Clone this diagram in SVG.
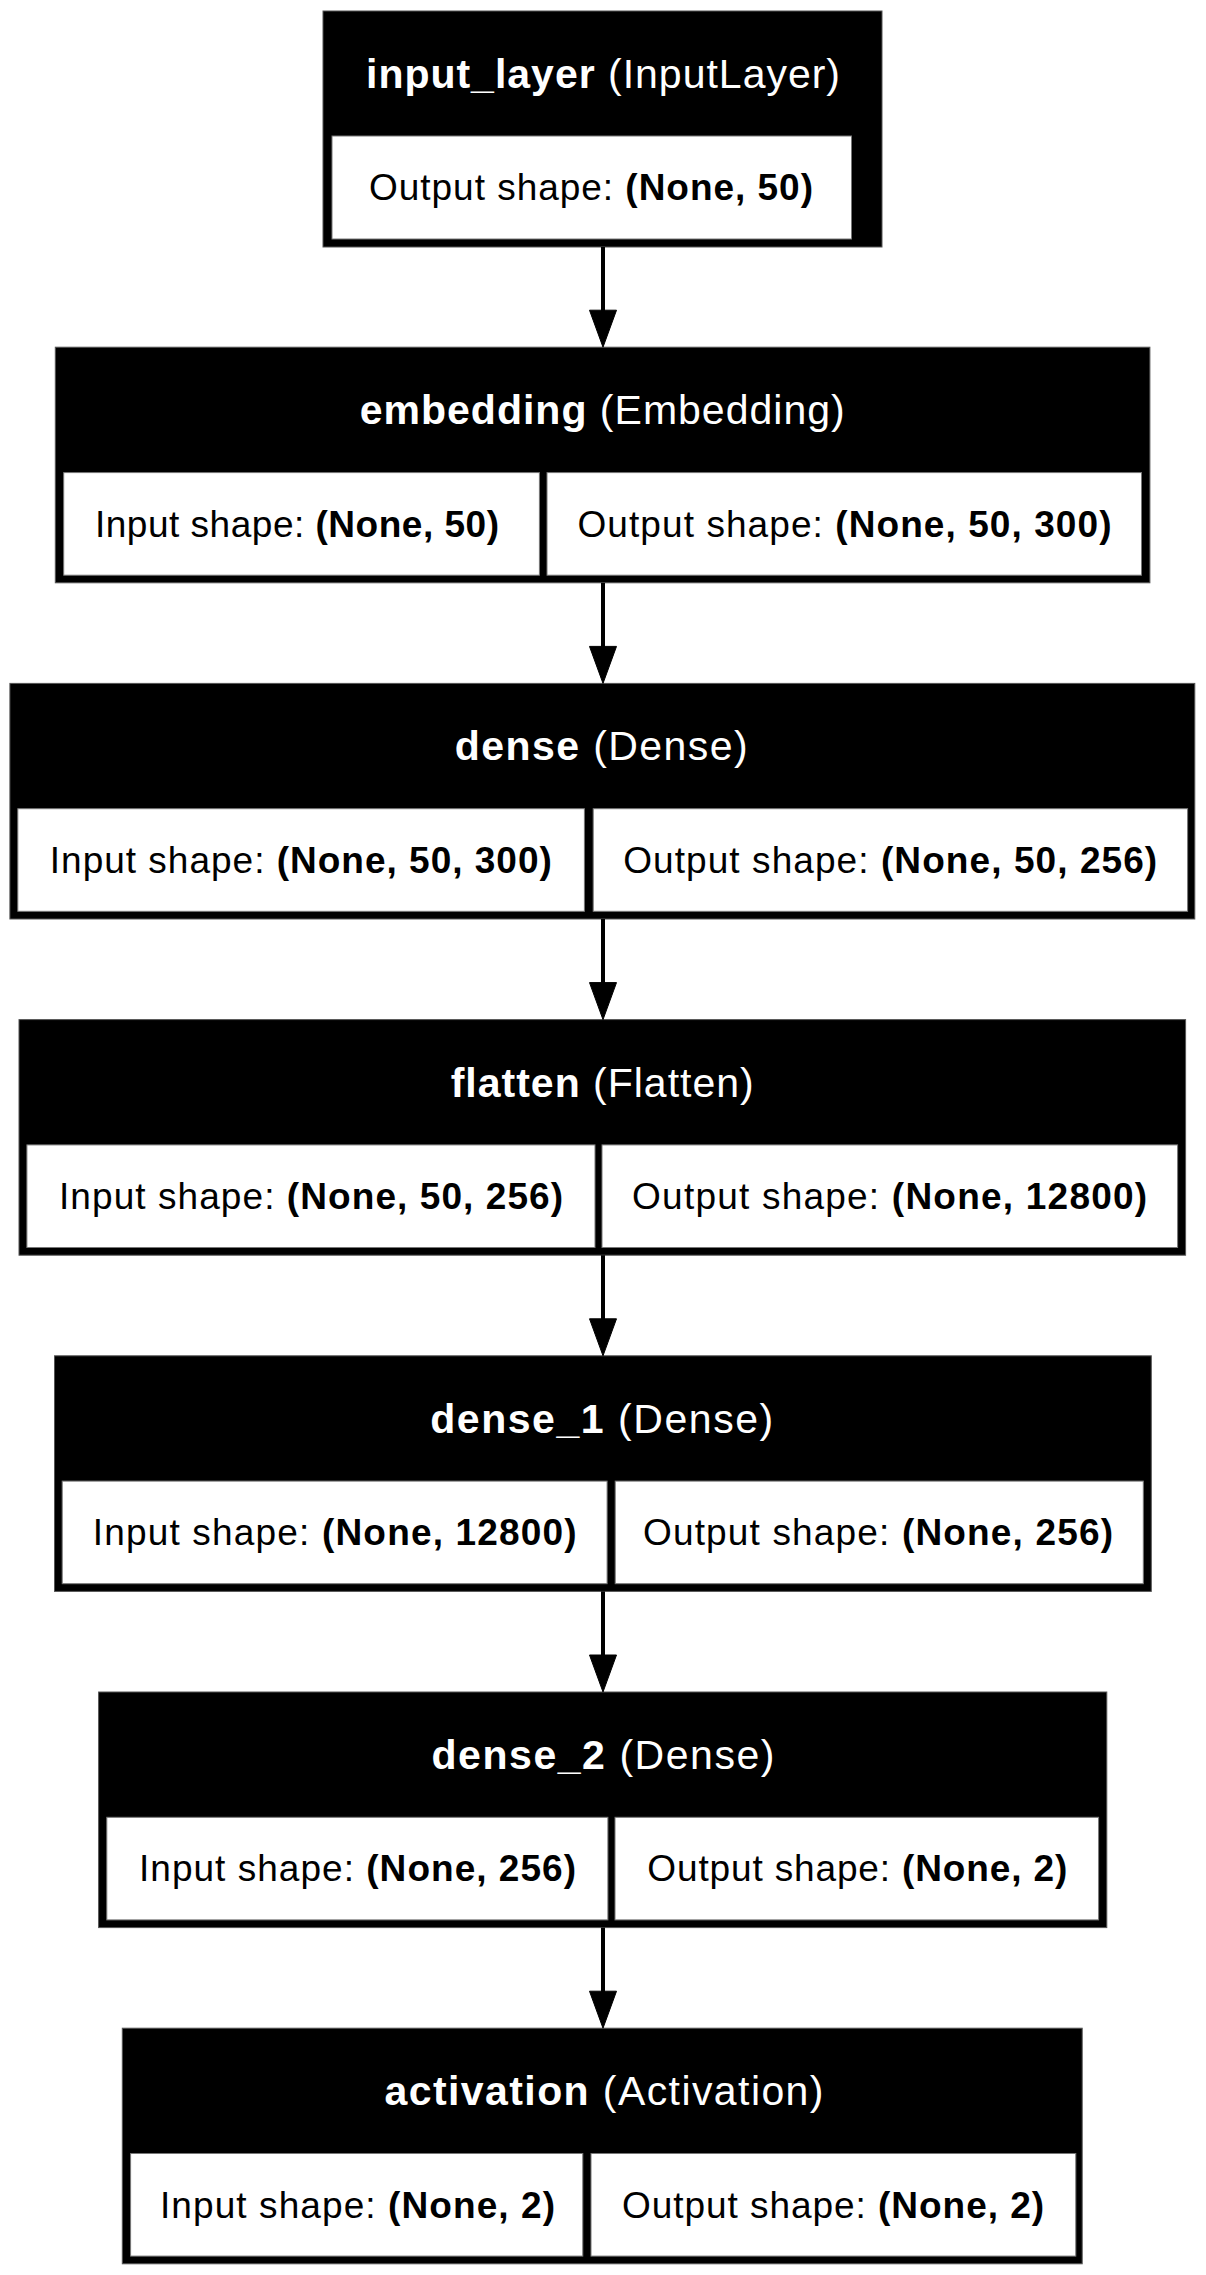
<svg xmlns="http://www.w3.org/2000/svg" width="1206" height="2275" viewBox="0 0 1206 2275">
<style>
.node{fill:#000;stroke:#555;stroke-width:1}
.cell{fill:#fff;stroke:#777;stroke-width:1}
.t{font-family:"Liberation Sans",Arial,Helvetica,sans-serif;font-size:41px;fill:#fff;text-anchor:middle}
.s{font-family:"Liberation Sans",Arial,Helvetica,sans-serif;font-size:37px;fill:#000;text-anchor:middle}
.b{font-weight:bold}
.edge{stroke:#000;stroke-width:4;fill:none}
.head{fill:#000;stroke:#000;stroke-width:1}
</style>
<rect width="1206" height="2275" fill="#fff"/>
<g id="input_layer">
<rect class="node" x="323" y="11" width="559" height="236"/>
<rect class="cell" x="332" y="136" width="519.5" height="103"/>
<text class="t" x="603" y="88" textLength="474"><tspan class="b">input_layer</tspan> (InputLayer)</text>
<text class="s" x="591" y="200" textLength="444">Output shape: <tspan class="b">(None, 50)</tspan></text>
</g>
<g id="embedding">
<rect class="node" x="55.3" y="347.2" width="1094.6" height="235.6"/>
<rect class="cell" x="63.7" y="472.6" width="475.7" height="102.6"/>
<rect class="cell" x="547" y="472.6" width="594.5" height="102.6"/>
<text class="t" x="602.2" y="424.2" textLength="485"><tspan class="b">embedding</tspan> (Embedding)</text>
<text class="s" x="297" y="536.6" textLength="404">Input shape: <tspan class="b">(None, 50)</tspan></text>
<text class="s" x="844.5" y="536.6" textLength="534">Output shape: <tspan class="b">(None, 50, 300)</tspan></text>
</g>
<g id="dense">
<rect class="node" x="9.9" y="683.4" width="1184.9" height="235.6"/>
<rect class="cell" x="17.8" y="808.7" width="566.6" height="102.6"/>
<rect class="cell" x="593.2" y="808.7" width="594.4" height="102.6"/>
<text class="t" x="601.2" y="760.4" textLength="293"><tspan class="b">dense</tspan> (Dense)</text>
<text class="s" x="300.8" y="872.7" textLength="502">Input shape: <tspan class="b">(None, 50, 300)</tspan></text>
<text class="s" x="890.2" y="872.7" textLength="534">Output shape: <tspan class="b">(None, 50, 256)</tspan></text>
</g>
<g id="flatten">
<rect class="node" x="19" y="1019.6" width="1166.6" height="235.6"/>
<rect class="cell" x="26.9" y="1144.9" width="568.1" height="102.6"/>
<rect class="cell" x="602" y="1144.9" width="575.6" height="102.6"/>
<text class="t" x="602.2" y="1096.6" textLength="303"><tspan class="b">flatten</tspan> (Flatten)</text>
<text class="s" x="311" y="1208.9" textLength="504">Input shape: <tspan class="b">(None, 50, 256)</tspan></text>
<text class="s" x="889.6" y="1208.9" textLength="515">Output shape: <tspan class="b">(None, 12800)</tspan></text>
</g>
<g id="dense_1">
<rect class="node" x="54.5" y="1355.8" width="1096.8" height="235.6"/>
<rect class="cell" x="62.2" y="1481.1" width="544.9" height="102.6"/>
<rect class="cell" x="615.2" y="1481.1" width="528.1" height="102.6"/>
<text class="t" x="601.7" y="1432.8" textLength="343"><tspan class="b">dense_1</tspan> (Dense)</text>
<text class="s" x="334.7" y="1545.1" textLength="484">Input shape: <tspan class="b">(None, 12800)</tspan></text>
<text class="s" x="878" y="1545.1" textLength="470">Output shape: <tspan class="b">(None, 256)</tspan></text>
</g>
<g id="dense_2">
<rect class="node" x="98.6" y="1692" width="1008.2" height="235.6"/>
<rect class="cell" x="106.8" y="1817.3" width="501.1" height="102.6"/>
<rect class="cell" x="615" y="1817.3" width="483.6" height="102.6"/>
<text class="t" x="603" y="1769" textLength="343"><tspan class="b">dense_2</tspan> (Dense)</text>
<text class="s" x="357.5" y="1881.3" textLength="437">Input shape: <tspan class="b">(None, 256)</tspan></text>
<text class="s" x="857.3" y="1881.3" textLength="420">Output shape: <tspan class="b">(None, 2)</tspan></text>
</g>
<g id="activation">
<rect class="node" x="122.3" y="2028.2" width="959.9" height="235.6"/>
<rect class="cell" x="130.6" y="2153.5" width="452.2" height="102.6"/>
<rect class="cell" x="591" y="2153.5" width="484.8" height="102.6"/>
<text class="t" x="604" y="2105.2" textLength="439"><tspan class="b">activation</tspan> (Activation)</text>
<text class="s" x="357.5" y="2217.5" textLength="395">Input shape: <tspan class="b">(None, 2)</tspan></text>
<text class="s" x="833" y="2217.5" textLength="422">Output shape: <tspan class="b">(None, 2)</tspan></text>
</g>
<g id="connectors">
<line class="edge" x1="603" y1="247" x2="603" y2="312"/>
<polygon class="head" points="589.5,310.2 616.5,310.2 603,347.2"/>
<line class="edge" x1="603" y1="582.8" x2="603" y2="648"/>
<polygon class="head" points="589.5,646.4 616.5,646.4 603,683.4"/>
<line class="edge" x1="603" y1="919" x2="603" y2="984"/>
<polygon class="head" points="589.5,982.6 616.5,982.6 603,1019.6"/>
<line class="edge" x1="603" y1="1255.2" x2="603" y2="1320"/>
<polygon class="head" points="589.5,1318.8 616.5,1318.8 603,1355.8"/>
<line class="edge" x1="603" y1="1591.4" x2="603" y2="1657"/>
<polygon class="head" points="589.5,1655 616.5,1655 603,1692"/>
<line class="edge" x1="603" y1="1927.6" x2="603" y2="1993"/>
<polygon class="head" points="589.5,1991.2 616.5,1991.2 603,2028.2"/>
</g>
</svg>
